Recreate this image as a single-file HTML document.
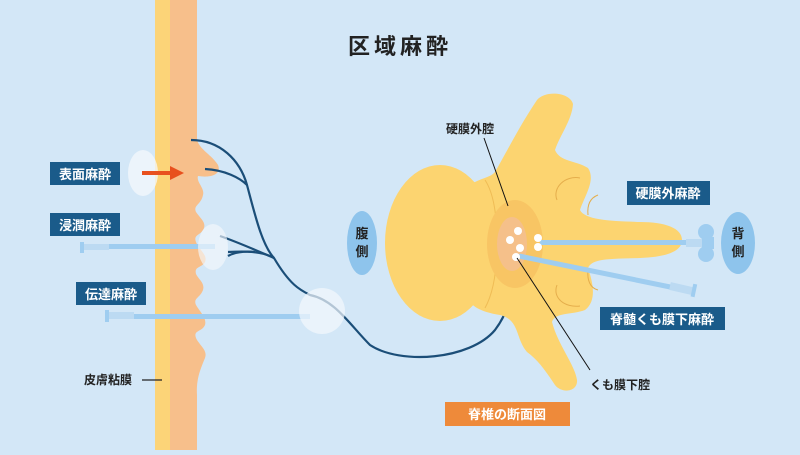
<!DOCTYPE html>
<html><head><meta charset="utf-8"><style>
html,body{margin:0;padding:0}
body{width:800px;height:450px;overflow:hidden;background:#d3e7f7;font-family:"Liberation Sans","Noto Sans CJK JP",sans-serif}
svg text{font-family:"Liberation Sans","Noto Sans CJK JP",sans-serif;font-weight:bold}
</style></head><body>
<svg width="800" height="450" viewBox="0 0 800 450" xmlns="http://www.w3.org/2000/svg">
<rect width="800" height="450" fill="#d3e7f7"/>
<text x="400" y="54" font-size="22" text-anchor="middle" fill="#222" letter-spacing="4">区域麻酔</text>
<!-- skin -->
<rect x="155" y="0" width="16" height="450" fill="#fcd478"/>
<path d="M170 0 H197 V140 C200 150 212 155 218 165 C222 175 210 178 198 176 C196 182 205 188 203 195 C201 205 193 205 196 212 C200 218 206 222 204 228 C201 236 193 234 196 242 C199 250 208 255 205 262 C202 268 194 266 196 274 C199 280 205 283 203 290 C200 298 193 298 196 305 C200 312 207 318 205 325 C202 332 193 330 196 338 C199 345 208 350 205 358 C200 370 196 380 197 395 V450 H170 Z" fill="#f7bf8b"/>
<!-- nerves -->
<g fill="none" stroke="#1b4e78" stroke-width="2.2">
<path d="M191 140 C220 140 240 160 247 185 C255 215 262 245 274 258 C290 285 300 290 310 295 C335 300 350 325 370 345 C400 365 470 360 495 330 C510 310 513 290 514 268"/>
<path d="M205 169 C225 170 240 178 247 185"/>
<path d="M220 236 C240 243 260 252 274 258"/>
<path d="M228 252 C245 251 262 251 274 258"/>
<path d="M228 256 C235 252 245 251 255 252"/>
</g>
<!-- needles -->
<rect x="100" y="244" width="115" height="5" fill="#9fcdf0"/>
<rect x="80" y="242" width="4" height="11" fill="#9fcdf0"/><rect x="84" y="244" width="25" height="6" fill="#bcdaf2"/>
<rect x="130" y="314" width="180" height="5" fill="#9fcdf0"/>
<rect x="105" y="310" width="4" height="12" fill="#9fcdf0"/><rect x="109" y="312" width="25" height="7" fill="#bcdaf2"/>
<!-- highlight ellipses -->
<ellipse cx="143" cy="173" rx="15" ry="23" fill="#f4f8fc" opacity="0.75"/>
<ellipse cx="213" cy="247" rx="15" ry="23" fill="#f4f8fc" opacity="0.65"/>
<ellipse cx="322" cy="311" rx="23" ry="23" fill="#f4f8fc" opacity="0.7"/>
<path d="M142 173 H172" stroke="#e8501e" stroke-width="4"/><path d="M170 166 L184 173 L170 180 Z" fill="#e8501e"/>
<!-- labels left -->
<rect x="50" y="162" width="70" height="23" fill="#1a5b8a"/><text x="85" y="179" font-size="13" fill="#fff" text-anchor="middle">表面麻酔</text>
<rect x="50" y="213" width="70" height="23" fill="#1a5b8a"/><text x="85" y="230" font-size="13" fill="#fff" text-anchor="middle">浸潤麻酔</text>
<rect x="76" y="282" width="70" height="23" fill="#1a5b8a"/><text x="111" y="299" font-size="13" fill="#fff" text-anchor="middle">伝達麻酔</text>
<text x="84" y="384" font-size="12" fill="#222">皮膚粘膜</text><path d="M142 380 H162" stroke="#222" stroke-width="1.2"/>
<!-- sides -->
<ellipse cx="362" cy="243" rx="15" ry="32" fill="#8ec4ec"/>
<text x="362" y="238" font-size="13" fill="#222" text-anchor="middle">腹</text><text x="362" y="256" font-size="13" fill="#222" text-anchor="middle">側</text>
<ellipse cx="738" cy="243" rx="17" ry="31" fill="#8ec4ec"/>
<text x="738" y="238" font-size="13" fill="#222" text-anchor="middle">背</text><text x="738" y="256" font-size="13" fill="#222" text-anchor="middle">側</text>
<!-- vertebra -->
<path d="M470 185 C480 178 490 178 495 172 C505 155 520 125 537 100 C545 90 570 92 573 104 C572 120 560 135 555 150 C560 162 575 160 588 168 C596 180 585 195 580 210 C585 220 610 221 640 222 C665 222 682 228 682 240 C682 252 665 257 640 258 C612 259 592 258 588 268 C592 280 598 300 585 310 C572 315 555 312 552 322 C558 345 575 365 577 380 C578 392 562 394 555 385 C545 370 538 360 527 352 C515 338 520 320 500 315 C480 312 470 305 470 300 Z" fill="#fcd470"/>
<ellipse cx="440" cy="243" rx="55" ry="78" fill="#fcd470"/>
<path d="M485 180 C495 195 497 220 497 243 C497 265 495 290 485 308" fill="none" stroke="#efbc55" stroke-width="1"/>
<ellipse cx="515" cy="244" rx="28" ry="44" fill="#f8c564"/>
<ellipse cx="512" cy="244" rx="15" ry="27" fill="#f5c08a"/>
<path d="M557 200 C552 188 565 175 580 178 M598 195 C590 198 587 205 588 215" fill="none" stroke="#e5ae4c" stroke-width="1"/>
<path d="M557 285 C552 298 565 308 580 306 M598 290 C590 288 587 280 588 270" fill="none" stroke="#e5ae4c" stroke-width="1"/>
<!-- vertebra needles -->
<rect x="540" y="240" width="150" height="5" fill="#9fcdf0"/>
<rect x="686" y="239" width="16" height="8" fill="#bcdaf2"/><rect x="710" y="237" width="4" height="12" fill="#9fcdf0"/>
<ellipse cx="706" cy="232" rx="8" ry="8" fill="#9fcdf0"/><ellipse cx="706" cy="254" rx="8" ry="8" fill="#9fcdf0"/><rect x="702" y="238" width="9" height="10" fill="#9fcdf0"/>
<path d="M519 256 L680 289" stroke="#9fcdf0" stroke-width="5"/>
<path d="M670 286 L692 291" stroke="#bcdaf2" stroke-width="8"/><rect x="692" y="284" width="4" height="13" fill="#9fcdf0" transform="rotate(12 694 290)"/>
<g fill="#fff"><circle cx="518" cy="231" r="4"/><circle cx="510" cy="240" r="4"/><circle cx="520" cy="248" r="4"/><circle cx="516" cy="257" r="4"/><circle cx="538" cy="238" r="4"/><circle cx="538" cy="247" r="4"/></g>
<path d="M484 138 L508 206" stroke="#111" stroke-width="1"/>
<path d="M517 258 L590 370" stroke="#111" stroke-width="1"/>
<text x="470" y="133" font-size="12" fill="#222" text-anchor="middle">硬膜外腔</text>
<text x="620" y="389" font-size="12" fill="#222" text-anchor="middle">くも膜下腔</text>
<rect x="627" y="181" width="83" height="24" fill="#1a5b8a"/><text x="668" y="198" font-size="13" fill="#fff" text-anchor="middle">硬膜外麻酔</text>
<rect x="600" y="307" width="125" height="23" fill="#1a5b8a"/><text x="662" y="324" font-size="13" fill="#fff" text-anchor="middle">脊髄くも膜下麻酔</text>
<rect x="445" y="402" width="125" height="24" fill="#ee8a3a"/><text x="507" y="419" font-size="13" fill="#fff" text-anchor="middle">脊椎の断面図</text>
</svg>
</body></html>
